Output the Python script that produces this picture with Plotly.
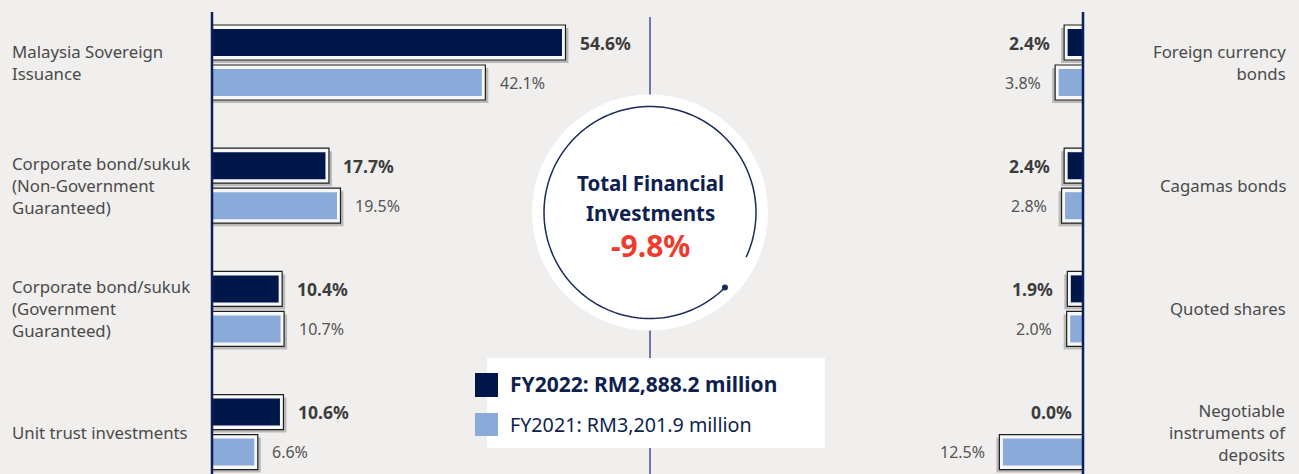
import math
import plotly.graph_objects as go

# ---------------- data ----------------
left_categories = ["Malaysia Sovereign<br>Issuance",
                   "Corporate bond/sukuk<br>(Non-Government<br>Guaranteed)",
                   "Corporate bond/sukuk<br>(Government<br>Guaranteed)",
                   "Unit trust investments"]
left_fy2022 = [54.6, 17.7, 10.4, 10.6]
left_fy2021 = [42.1, 19.5, 10.7, 6.6]

right_categories = ["Foreign currency<br>bonds",
                    "Cagamas bonds",
                    "Quoted shares",
                    "Negotiable<br>instruments of<br>deposits"]
right_fy2022 = [2.4, 2.4, 1.9, 0.0]
right_fy2021 = [3.8, 2.8, 2.0, 12.5]

series_labels = ["FY2022: RM2,888.2 million", "FY2021: RM3,201.9 million"]
center_title = "Total Financial<br>Investments"
total_change = "-9.8%"

# ---------------- style ----------------
W, H = 1299, 474
FONT = "Noto Sans"
BG = "#f0efed"
NAVY = "#00174a"
LIGHT = "#8aaad9"
AXIS_NAVY = "#0b1f5c"
PX = 6.41          # pixels per percentage point
U = 123.2          # row pitch in pixels
ROW0 = 62.5        # centre of first row (px from top)
LEFT_AX, MID, RIGHT_AX = 212, 650, 1083
EXT = 3.5 / PX     # outline overhang in data units


def px_x(p):
    return p / W


def px_y(p):
    return 1 - p / H


fig = go.Figure()


def add_series(vals, cats, xa, ya, color, centre_px):
    outline_len = [v + 2 * EXT if v > 0 else 0 for v in vals]
    shadow_len = [v + 2 * EXT + 3 / PX if v > 0 else 0 for v in vals]
    common = dict(y=cats, orientation="h", xaxis=xa, yaxis=ya,
                  hoverinfo="skip", showlegend=False, base=-EXT)
    # shadow
    fig.add_trace(go.Bar(x=shadow_len, offset=(centre_px - 17.5 + 3) / U,
                         width=35 / U, marker=dict(color="rgba(0,0,0,0.22)",
                                                   line=dict(width=0)),
                         **common))
    # outline box
    fig.add_trace(go.Bar(x=outline_len, offset=(centre_px - 17.5) / U,
                         width=35 / U, marker=dict(color="#f7f7f7",
                                                   line=dict(color="#1e1e1e", width=1.2)),
                         **common))
    # fill
    fig.add_trace(go.Bar(x=vals, y=cats, orientation="h", xaxis=xa, yaxis=ya,
                         hoverinfo="skip", showlegend=False,
                         offset=(centre_px - 13.5) / U, width=27 / U,
                         marker=dict(color=color, line=dict(width=0))))


add_series(left_fy2022, left_categories, "x", "y", NAVY, -20)
add_series(left_fy2021, left_categories, "x", "y", LIGHT, 20)
add_series(right_fy2022, right_categories, "x2", "y2", NAVY, -20)
add_series(right_fy2021, right_categories, "x2", "y2", LIGHT, 20)

annotations = []

# value labels
for side, (c22, c21, cats, xref, yref, sign) in enumerate([
        (left_fy2022, left_fy2021, left_categories, "x", "y", 1),
        (right_fy2022, right_fy2021, right_categories, "x2", "y2", -1)]):
    for i, cat in enumerate(cats):
        for vals, yshift, bold in ((c22, 20, True), (c21, -20, False)):
            v = vals[i]
            gap = 16 if v > 0 else 9
            annotations.append(dict(
                x=v, y=i, xref=xref, yref=yref, showarrow=False,
                text=(f"<b>{v:.1f}%</b>" if bold else f"{v:.1f}%"),
                xanchor="left" if sign > 0 else "right",
                xshift=sign * gap, yshift=yshift,
                font=dict(family=FONT, size=17.5 if bold else 16,
                          color="#3c3c3c" if bold else "#555555")))

# category labels
for i, cat in enumerate(left_categories):
    annotations.append(dict(x=px_x(10), y=i, xref="paper", yref="y",
                            text=cat, showarrow=False, xanchor="left", align="left",
                            font=dict(family=FONT, size=16.8, color="#4a4a4a")))
for i, cat in enumerate(right_categories):
    annotations.append(dict(x=px_x(1288), y=i, xref="paper", yref="y2",
                            text=cat, showarrow=False, xanchor="right", align="right",
                            font=dict(family=FONT, size=16.8, color="#4a4a4a")))

# centre circle text
CX, CY = 650, 212.5
annotations.append(dict(x=px_x(CX), y=px_y(183), xref="paper", yref="paper",
                        text="<b>" + center_title.split("<br>")[0] + "</b>", showarrow=False,
                        xanchor="center", yanchor="middle",
                        font=dict(family=FONT, size=20.5, color="#0f1f4f")))
annotations.append(dict(x=px_x(CX), y=px_y(213), xref="paper", yref="paper",
                        text="<b>" + center_title.split("<br>")[1] + "</b>", showarrow=False,
                        xanchor="center", yanchor="middle",
                        font=dict(family=FONT, size=20.5, color="#0f1f4f")))
annotations.append(dict(x=px_x(CX), y=px_y(245), xref="paper", yref="paper",
                        text=f"<b>{total_change}</b>", showarrow=False,
                        xanchor="center", yanchor="middle",
                        font=dict(family=FONT, size=30, color="#ee3b2b")))

# legend texts
annotations.append(dict(x=px_x(508), y=px_y(384), xref="paper", yref="paper",
                        text=f"<b>{series_labels[0]}</b>", showarrow=False,
                        xanchor="left", yanchor="middle",
                        font=dict(family=FONT, size=21, color="#0f1f4f")))
annotations.append(dict(x=px_x(508), y=px_y(424), xref="paper", yref="paper",
                        text=series_labels[1], showarrow=False,
                        xanchor="left", yanchor="middle",
                        font=dict(family=FONT, size=19.7, color="#0f1f4f")))

# ---------------- shapes ----------------
shapes = []
# centre vertical line
shapes.append(dict(type="line", xref="paper", yref="paper",
                   x0=px_x(MID), x1=px_x(MID), y0=px_y(17), y1=px_y(474),
                   line=dict(color="#6b7ba3", width=2), layer="above"))
# white circle
R_OUT = 118
shapes.append(dict(type="circle", xref="paper", yref="paper",
                   x0=px_x(CX - R_OUT), x1=px_x(CX + R_OUT),
                   y0=px_y(CY + R_OUT), y1=px_y(CY - R_OUT),
                   fillcolor="white", line=dict(width=0), layer="above"))
# inner arc with a gap
R_IN = 106
pts = []
for k in range(0, 181):
    th = math.radians(45 + 340 * k / 180)
    pts.append((px_x(CX + R_IN * math.cos(th)), px_y(CY + R_IN * math.sin(th))))
path = "M " + " L ".join(f"{x:.5f},{y:.5f}" for x, y in pts)
shapes.append(dict(type="path", xref="paper", yref="paper", path=path,
                   line=dict(color="#1a2a5a", width=1.5), layer="above"))
dx, dy = CX + R_IN * math.cos(math.radians(45)), CY + R_IN * math.sin(math.radians(45))
shapes.append(dict(type="circle", xref="paper", yref="paper",
                   x0=px_x(dx - 3), x1=px_x(dx + 3), y0=px_y(dy + 3), y1=px_y(dy - 3),
                   fillcolor="#1a2a5a", line=dict(width=0), layer="above"))
# legend box
shapes.append(dict(type="rect", xref="paper", yref="paper",
                   x0=px_x(487), x1=px_x(825), y0=px_y(448), y1=px_y(358),
                   fillcolor="white", line=dict(width=0), layer="above"))
shapes.append(dict(type="rect", xref="paper", yref="paper",
                   x0=px_x(475), x1=px_x(498), y0=px_y(397), y1=px_y(373),
                   fillcolor=NAVY, line=dict(width=0), layer="above"))
shapes.append(dict(type="rect", xref="paper", yref="paper",
                   x0=px_x(475), x1=px_x(498), y0=px_y(436), y1=px_y(413),
                   fillcolor=LIGHT, line=dict(width=0), layer="above"))
# bar axis lines
for ax in (LEFT_AX, RIGHT_AX):
    shapes.append(dict(type="line", xref="paper", yref="paper",
                       x0=px_x(ax), x1=px_x(ax), y0=px_y(12), y1=px_y(474),
                       line=dict(color=AXIS_NAVY, width=2.5), layer="above"))

fig.update_layout(
    width=W, height=H, margin=dict(l=0, r=0, t=0, b=0),
    paper_bgcolor=BG, plot_bgcolor=BG, barmode="overlay",
    xaxis=dict(domain=[px_x(LEFT_AX), px_x(MID)], range=[0, (MID - LEFT_AX) / PX],
               visible=False, fixedrange=True, anchor="y"),
    xaxis2=dict(domain=[px_x(MID), px_x(RIGHT_AX)], range=[(RIGHT_AX - MID) / PX, 0],
                visible=False, fixedrange=True, anchor="y2"),
    yaxis=dict(domain=[0, 1], type="category", categoryorder="array",
               categoryarray=left_categories,
               range=[(H - ROW0) / U, -ROW0 / U], visible=False, anchor="x"),
    yaxis2=dict(domain=[0, 1], type="category", categoryorder="array",
                categoryarray=right_categories,
                range=[(H - ROW0) / U, -ROW0 / U], visible=False, anchor="x2"),
    annotations=annotations, shapes=shapes,
    font=dict(family=FONT),
)

fig.write_html("out.html", config={"displayModeBar": False},
               post_script="document.body.style.margin='0';document.body.style.background='" + BG + "';")
